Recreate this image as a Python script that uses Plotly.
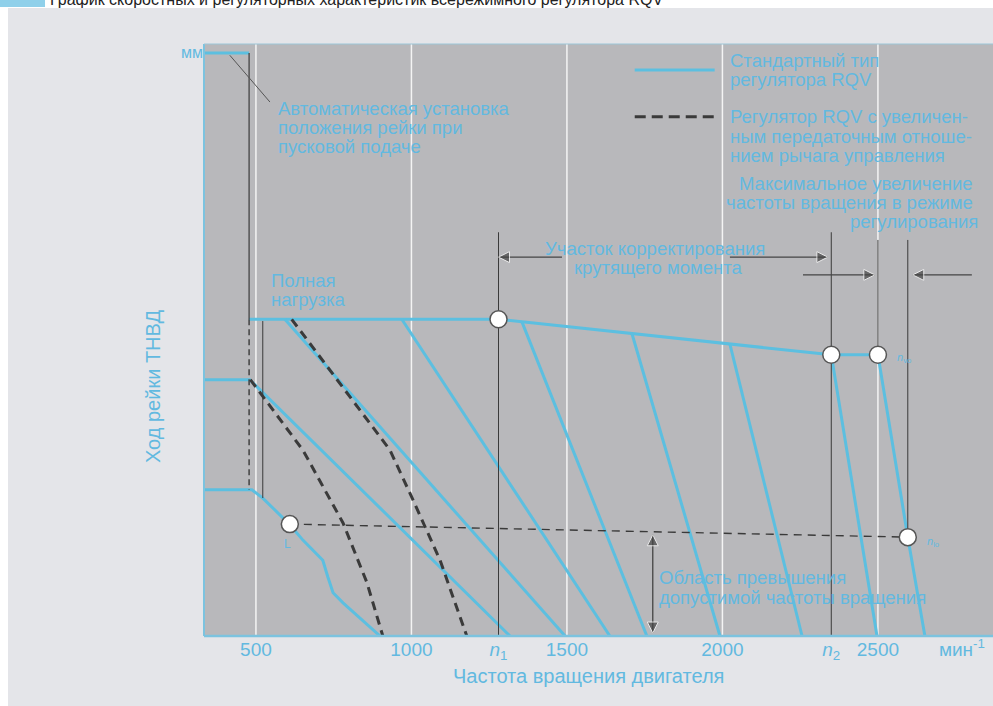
import plotly.graph_objects as go

# ---------------- data (engine speed in min^-1, rack travel in relative units) ----------------
start_rpm = [333, 478]
start_y = [98.5, 98.5]

full_load_rpm = [478, 1280, 2350, 2500]
full_load_y = [53.5, 53.5, 47.5, 47.5]

part_rpm = [333, 480, 1317]
part_y = [43.3, 43.3, 0]

idle_rpm = [333, 487, 522, 609, 651, 715, 731, 748, 780, 899]
idle_y = [24.7, 24.7, 23.3, 18.8, 16.2, 12.8, 10.0, 7.3, 5.6, 0]

droop_start_rpm = [593, 969, 1355, 1709, 2024, 2350]
droop_start_y = [53.5, 53.5, 53.1, 51.1, 49.3, 47.5]
droop_end_rpm = [1494, 1638, 1757, 1992, 2256, 2497]

hi_idle_rpm = [2500, 2596, 2651]
hi_idle_y = [47.5, 16.7, 0]

rqv_a_rpm = [615, 786, 931, 1005, 1092, 1178]
rqv_a_y = [53.5, 41.6, 31.4, 23.0, 12.8, 0]
rqv_b_rpm = [482, 577, 651, 780, 857, 908]
rqv_b_y = [43.3, 36.5, 31.4, 19.1, 9.0, 0]

overspeed_rpm = [609, 2596]
overspeed_y = [18.9, 16.7]

point_rpm = [609, 1280, 2350, 2500, 2596]
point_y = [18.9, 53.5, 47.5, 47.5, 16.7]

n1, n2 = 1280, 2350
grid_ticks = [500, 1000, 1500, 2000, 2500]
tick_vals = [500, 1000, n1, 1500, 2000, n2, 2500, 2770]
tick_text = ["500", "1000", "<i>n</i><sub>1</sub>", "1500", "2000", "<i>n</i><sub>2</sub>", "2500", "мин<sup>-1</sup>"]

BLUE = "#5cbfe0"
TXT = "#62b9e0"
DARK = "#3a3a3a"
PLOT_BG = "#b8b8bb"
PAPER_BG = "#e4e5e9"
FONT = "Liberation Sans, Arial, sans-serif"
FS = 18.5

fig = go.Figure()

def line(x, y, color=BLUE, width=3, dash="solid"):
    fig.add_trace(go.Scatter(x=x, y=y, mode="lines", line=dict(color=color, width=width, dash=dash),
                             hoverinfo="skip", showlegend=False))

line(start_rpm, start_y)
line(full_load_rpm, full_load_y)
line(part_rpm, part_y)
line(idle_rpm, idle_y)
for xs, ys, xe in zip(droop_start_rpm, droop_start_y, droop_end_rpm):
    line([xs, xe], [ys, 0])
line(hi_idle_rpm, hi_idle_y)
line(rqv_a_rpm, rqv_a_y, color=DARK, width=3, dash="9px,6px")
line(rqv_b_rpm, rqv_b_y, color=DARK, width=3, dash="9px,6px")
line(overspeed_rpm, overspeed_y, color=DARK, width=1.4, dash="8px,6px")

# thin dark construction lines
line([start_rpm[1], start_rpm[1]], [start_y[1], full_load_y[0]], color=DARK, width=1.2)
line([start_rpm[1], start_rpm[1]], [full_load_y[0], idle_y[1]], color=DARK, width=1.4, dash="6px,4px")
line([522, 522], [53.2, 23.3], color=DARK, width=1)
line([n1, n1], [68.2, 0], color=DARK, width=1)
line([n2, n2], [68.2, 0], color=DARK, width=1)
line([2500, 2500], [66.9, 47.5], color=DARK, width=1)
line([2596, 2596], [66.9, 16.7], color=DARK, width=1)
line([416, 545], [98.1, 90.2], color="#555555", width=1)

# legend samples
line([1718, 1975], [95.6, 95.6], color=BLUE, width=3)
line([1718, 1975], [87.7, 87.7], color=DARK, width=3, dash="11px,6px")

# dimension arrows (lines with arrow-head markers)
def arrow(xs, ys, symbols, sizes):
    fig.add_trace(go.Scatter(x=xs, y=ys, mode="lines+markers",
                             line=dict(color="#444444", width=1.3),
                             marker=dict(symbol=symbols, size=sizes, color="#444444"),
                             hoverinfo="skip", showlegend=False))

arrow([1484, n1], [64.0, 64.0], ["circle", "arrow-left"], [0, 11])
arrow([2024, 2339], [64.0, 64.0], ["circle", "arrow-right"], [0, 11])
arrow([2259, 2490], [61.0, 61.0], ["circle", "arrow-right"], [0, 11])
arrow([2802, 2612], [61.0, 61.0], ["circle", "arrow-left"], [0, 11])
arrow([1776, 1776], [17.1, 0.5], ["arrow-up", "arrow-down"], [11, 11])

fig.add_trace(go.Scatter(x=point_rpm, y=point_y, mode="markers",
                         marker=dict(size=17, color="white", line=dict(color="#555555", width=1.5)),
                         hoverinfo="skip", showlegend=False))

shapes = []
for g in grid_ticks:
    shapes.append(dict(type="line", xref="x", yref="paper", x0=g, x1=g, y0=0, y1=1,
                       line=dict(color="#f4f4f4", width=1.5), layer="below"))
# page decorations
shapes += [
    dict(type="rect", xref="paper", yref="paper", x0=-0.26, x1=1.01, y0=1.0608, y1=1.2,
         fillcolor="white", line=dict(width=0), layer="below"),
    dict(type="rect", xref="paper", yref="paper", x0=-0.26, x1=-0.2484, y0=-0.2, y1=1.2,
         fillcolor="white", line=dict(width=0), layer="below"),
    dict(type="rect", xref="paper", yref="paper", x0=-0.26, x1=-0.2015, y0=1.0625, y1=1.2,
         fillcolor="#8fd0ea", line=dict(width=0), layer="below"),
    dict(type="line", xref="paper", yref="paper", x0=0, x1=0, y0=0, y1=1,
         line=dict(color="#7cc3df", width=2)),
    dict(type="line", xref="paper", yref="paper", x0=0, x1=1, y0=1, y1=1,
         line=dict(color="#9cc6d8", width=1.2)),
    dict(type="line", xref="paper", yref="paper", x0=0, x1=1, y0=0, y1=0,
         line=dict(color="#7cc3df", width=2.5)),
]

ann = []
def txt(x, y, s, size=FS, anchor="left", color=TXT, xref="x", yref="y", **kw):
    ann.append(dict(x=x, y=y, xref=xref, yref=yref, text=s, showarrow=False, xanchor=anchor,
                    yanchor="middle", font=dict(family=FONT, size=size, color=color), **kw))

txt(564, 89.16, "Автоматическая установка")
txt(564, 85.98, "положения рейки при")
txt(564, 82.77, "пусковой подаче")
txt(542, 59.97, "Полная")
txt(542, 56.76, "нагрузка")
txt(2018, 97.13, "Стандартный тип")
txt(2018, 93.92, "регулятора RQV")
txt(2018, 87.67, "Регулятор RQV с увеличен-")
txt(2018, 84.46, "ным передаточным отноше-")
txt(2018, 81.25, "нием рычага управления")
txt(2812, 76.52, "Максимальное увеличение", anchor="right")
txt(2812, 73.31, "частоты вращения в режиме", anchor="right")
txt(2828, 70.10, "регулирования", anchor="right")
txt(1783, 65.54, "Участок корректирования", anchor="center")
txt(1793, 62.33, "крутящего момента", anchor="center")
txt(1789, 9.8, "Область превышения")
txt(1789, 6.42, "допустимой частоты вращения")
txt(600, 15.6, "L", size=12, anchor="center")
txt(2555, 47.0, "<i>n</i><sub>vo</sub>", size=11)
txt(2651, 15.9, "<i>n</i><sub>lo</sub>", size=11)

txt(-0.0646, 0.4206, "Ход рейки ТНВД", size=20, anchor="center", xref="paper", yref="paper", textangle=-90)
txt(1569, -0.0676, "Частота вращения двигателя", size=20, anchor="center", yref="paper")
txt(-0.1977, 1.0745, "График скоростных и регуляторных характеристик всережимного регулятора RQV",
    size=16, color="#222222", xref="paper", yref="paper")

fig.update_layout(
    width=993, height=706,
    margin=dict(l=204, r=0, t=44, b=70),
    paper_bgcolor=PAPER_BG, plot_bgcolor=PLOT_BG,
    shapes=shapes, annotations=ann, showlegend=False,
    xaxis=dict(range=[333, 2870], showgrid=False, zeroline=False, showline=False,
               tickmode="array", tickvals=tick_vals, ticktext=tick_text, ticks="",
               tickfont=dict(family=FONT, size=19, color=TXT)),
    yaxis=dict(range=[0, 100], showgrid=False, zeroline=False, showline=False,
               tickmode="array", tickvals=[98.6], ticktext=["мм"], ticks="",
               tickfont=dict(family=FONT, size=16, color=TXT)),
)

fig.write_html("out.html", config={"displayModeBar": False},
               post_script="document.body.style.margin='0px';document.body.style.padding='0px';")
